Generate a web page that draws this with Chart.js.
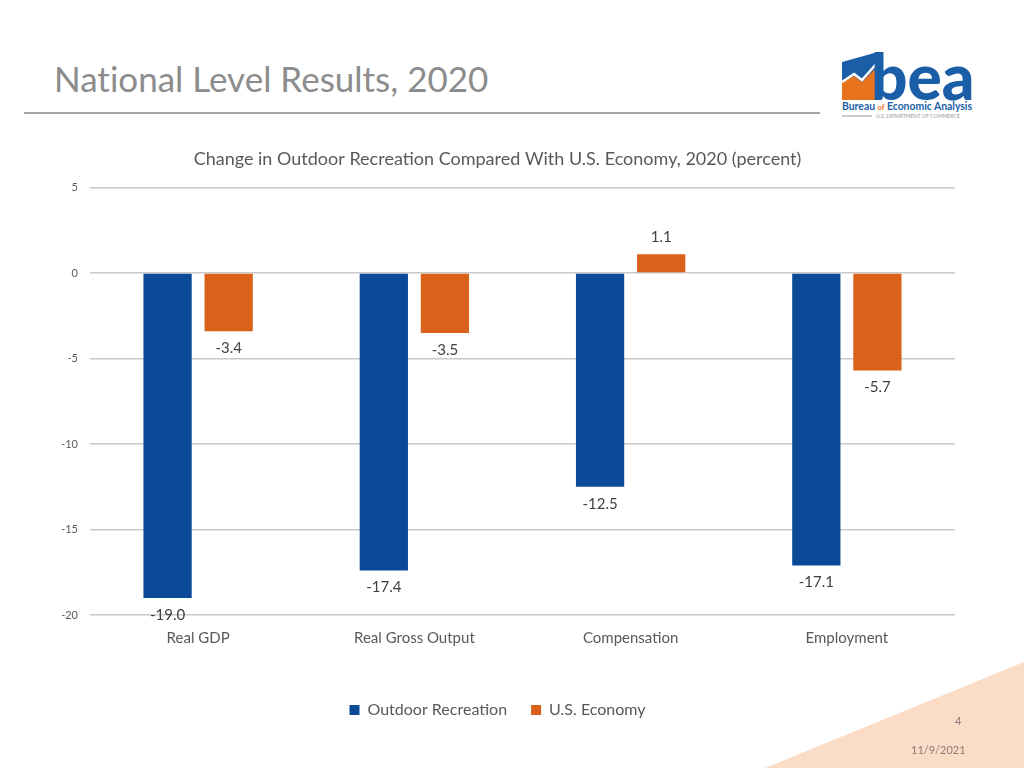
<!DOCTYPE html>
<html>
<head>
<meta charset="utf-8">
<script src="https://cdn.jsdelivr.net/npm/chart.js@4"></script>
<style>
  body { margin: 0; width: 1024px; height: 768px; background: #fff; position: relative; overflow: hidden; font-family: Lato, sans-serif; }
  #corner { position: absolute; left: 0; top: 0; width: 1024px; height: 768px; background: #fbdcc7; clip-path: polygon(765px 768px, 1024px 662px, 1024px 768px); }
  #title { position: absolute; left: 54px; top: 57px; font-size: 35px; color: #8c8c8c; white-space: nowrap; font-variant-ligatures: none; }
  #rule { position: absolute; left: 24px; top: 112px; width: 796px; height: 2px; background: #a6a6a6; }
  #logo { position: absolute; left: 840px; top: 46px; width: 140px; height: 74px; }
  #chartBox { position: absolute; left: 40px; top: 135px; width: 944px; height: 600px; }
  .foot { position: absolute; font-size: 11px; color: #8b7d77; }
</style>
</head>
<body>
<div id="corner"></div>
<div id="title">National Level Results, 2020</div>
<div id="rule"></div>
<svg id="logo" viewBox="0 0 140 74">
  <polygon points="2,16 38,6 38,54 2,54" fill="#1a5ea8"/>
  <polygon points="2,36 14,30 22,36 38,20 38,54 2,54" fill="#e8731f"/>
  <polyline points="2,36 14,28 22,34 38,16" fill="none" stroke="#fff" stroke-width="2.5"/>
  <text x="31" y="54" font-family="Lato, sans-serif" font-weight="900" font-size="64" fill="#1a5ea8">bea</text>
  <text x="2" y="64" font-family="Lato, sans-serif" font-weight="700" font-size="10.4" fill="#1a5ea8">Bureau <tspan fill="#e8731f" font-size="7.5">of</tspan> Economic Analysis</text>
  <line x1="2" y1="70" x2="32" y2="70" stroke="#9a9a9a" stroke-width="1"/>
  <text x="36" y="72" font-family="Lato, sans-serif" font-size="5.2" fill="#9a9a9a">U.S. DEPARTMENT OF COMMERCE</text>
</svg>
<div id="chartBox"><canvas id="barChart"></canvas></div>
<div class="foot" style="left:955px; top:714px;">4</div>
<div class="foot" style="left:911px; top:743px;">11/9/2021</div>

<script>
const COLORS = {
    text: '#595959',
    label: '#404040',
    grid: '#c9c9c9',
    outdoor: '#0b4a97',
    economy: '#da6119'
};

const categories = ['Real GDP', 'Real Gross Output', 'Compensation', 'Employment'];
const outdoorRecreation = [-19.0, -17.4, -12.5, -17.1];
const usEconomy = [-3.4, -3.5, 1.1, -5.7];
const yTicks = [5, 0, -5, -10, -15, -20];

Chart.defaults.font.family = 'Lato, sans-serif';
Chart.defaults.color = COLORS.text;

// value labels under negative bars, above positive ones
const valueLabels = {
    id: 'valueLabels',
    afterDatasetsDraw(chart) {
        const ctx = chart.ctx;
        ctx.save();
        ctx.font = '15px Lato, sans-serif';
        ctx.fillStyle = COLORS.label;
        ctx.textAlign = 'center';
        ctx.textBaseline = 'middle';
        chart.data.datasets.forEach((ds, i) => {
            chart.getDatasetMeta(i).data.forEach((bar, j) => {
                const v = ds.data[j];
                const y = v < 0 ? bar.y + 17 : bar.y - 17;
                ctx.fillText(v.toFixed(1), bar.x, y);
            });
        });
        ctx.restore();
    }
};

new Chart(document.getElementById('barChart'), {
    type: 'bar',
    data: {
        labels: categories,
        datasets: [
            { label: 'Outdoor Recreation', data: outdoorRecreation, backgroundColor: COLORS.outdoor },
            { label: 'U.S. Economy', data: usEconomy, backgroundColor: COLORS.economy }
        ]
    },
    options: {
        responsive: true,
        maintainAspectRatio: false,
        animation: false,
        categoryPercentage: 0.565,
        barPercentage: 0.79,
        layout: { padding: { left: 0, right: 29, top: 0, bottom: 7 } },
        scales: {
            x: {
                grid: { display: false, drawTicks: false },
                border: { display: false },
                ticks: { color: COLORS.text, font: { size: 15 }, padding: 14 },
                afterFit: s => { s.height = 63; }
            },
            y: {
                min: -20,
                max: 5,
                afterBuildTicks: s => { s.ticks = yTicks.map(v => ({ value: v })); },
                grid: { color: COLORS.grid, lineWidth: 1.5, drawTicks: false },
                border: { display: false },
                ticks: { color: COLORS.text, font: { size: 11 }, padding: 12 },
                afterFit: s => { s.width = 50; }
            }
        },
        plugins: {
            title: {
                display: true,
                text: 'Change in Outdoor Recreation Compared With U.S. Economy, 2020 (percent)',
                color: COLORS.text,
                font: { size: 18, weight: 'normal' },
                padding: { top: 13, bottom: 18 }
            },
            legend: {
                position: 'bottom',
                labels: { color: COLORS.text, font: { size: 16 }, boxWidth: 10, boxHeight: 10, padding: 24 }
            },
            tooltip: { enabled: false }
        }
    },
    plugins: [valueLabels]
});
</script>
</body>
</html>
